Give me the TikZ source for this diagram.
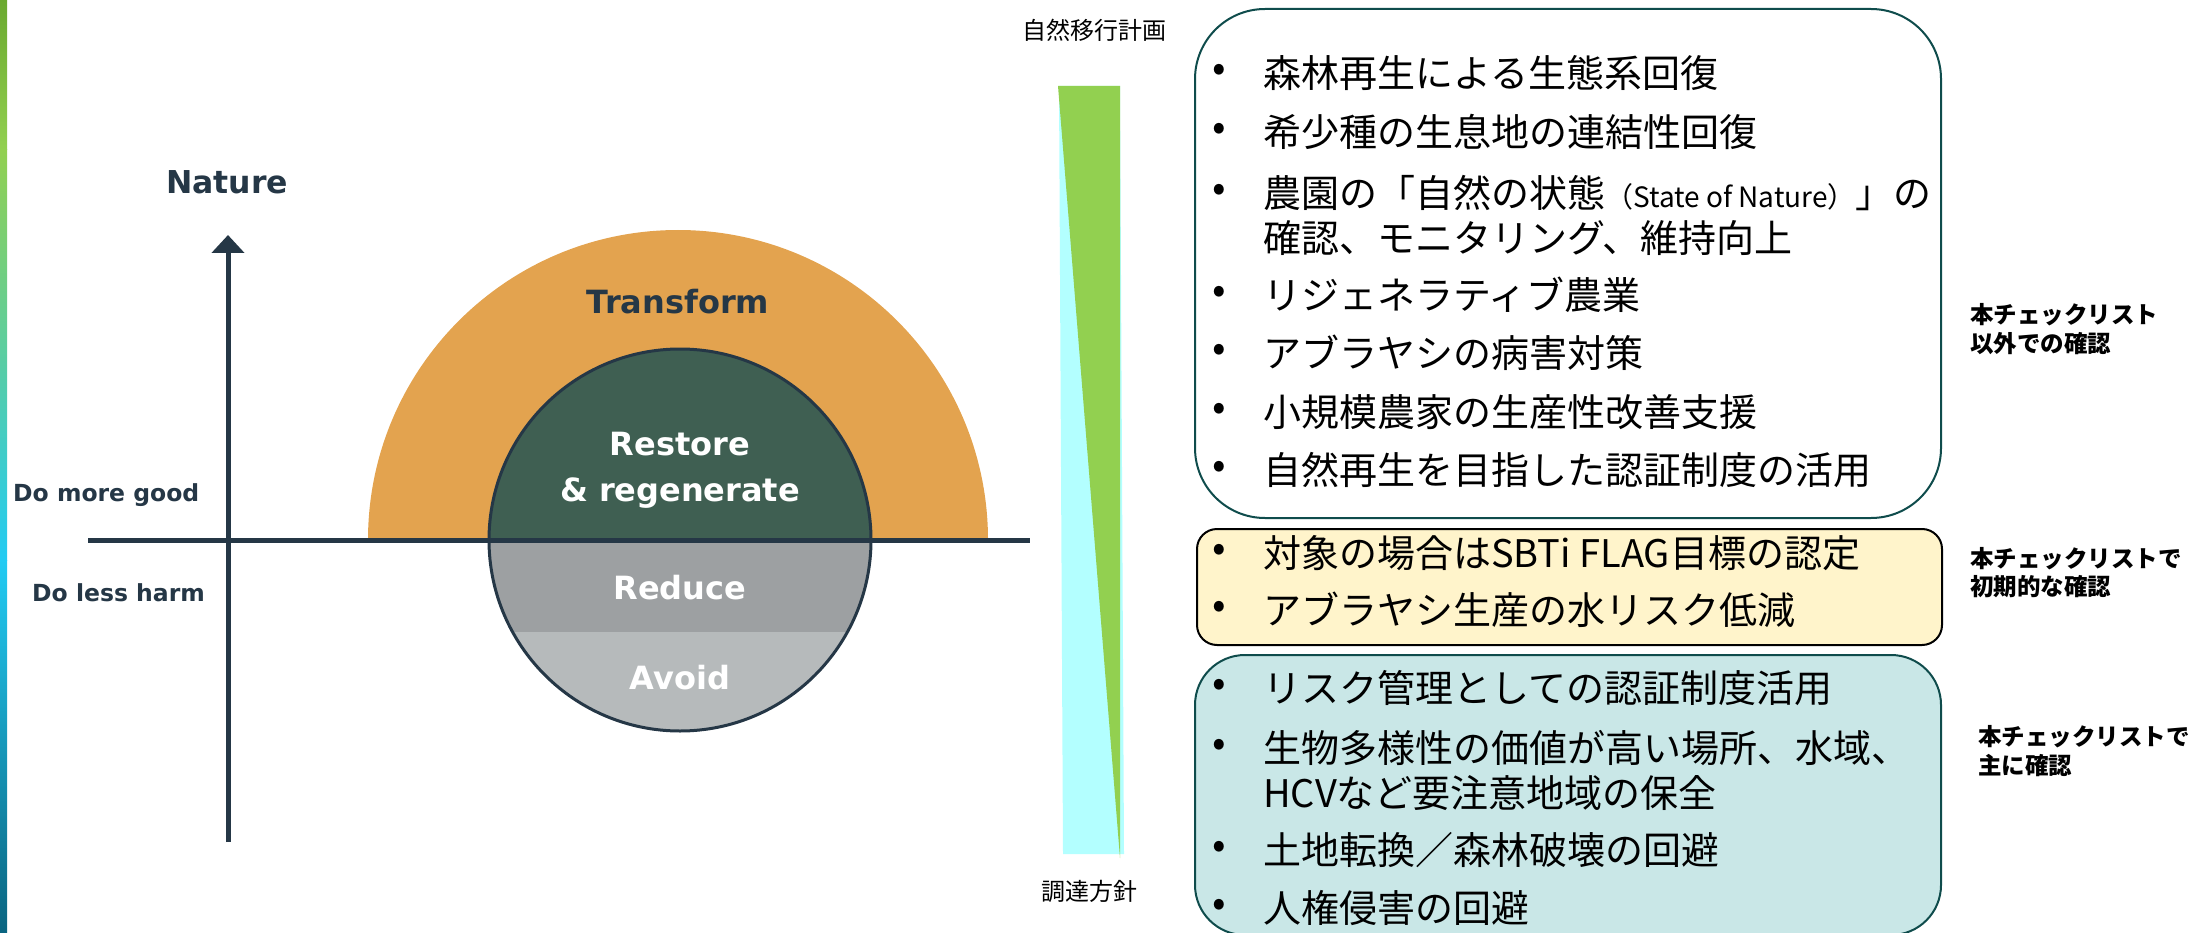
\documentclass[tikz,border=0pt]{standalone}
\usepackage{fontspec}
\usetikzlibrary{arrows.meta}
\newfontfamily\jp{Noto Sans CJK JP}
\newfontfamily\dv{DejaVu Sans}
\definecolor{navy}{HTML}{253746}
\definecolor{orng}{HTML}{E3A34F}
\definecolor{dgreen}{HTML}{3F5F52}
\definecolor{greyA}{HTML}{9DA0A2}
\definecolor{greyB}{HTML}{B6BABB}
\definecolor{tealline}{HTML}{0F4C4C}
\definecolor{yfill}{HTML}{FFF4CB}
\definecolor{tfill}{HTML}{C9E7E7}
\definecolor{bargreen}{HTML}{92D050}
\definecolor{barcyan}{HTML}{B3FFFF}
\definecolor{sA}{HTML}{6AA92F}
\definecolor{sB}{HTML}{92D050}
\definecolor{sC}{HTML}{4FD3B9}
\definecolor{sD}{HTML}{22CBF3}
\definecolor{sE}{HTML}{1590BF}
\definecolor{sF}{HTML}{0A6480}
\tikzset{
  lbl/.style={inner sep=0pt, font=\dv\bfseries\fontsize{32}{46}\selectfont, align=center},
  axlbl/.style={inner sep=0pt, anchor=west, text=navy, font=\dv\bfseries\fontsize{23.5}{28}\selectfont},
  item/.style={inner sep=0pt, anchor=west, align=left, font=\jp\fontsize{38}{45}\selectfont},
  bul/.style={inner sep=0pt, font=\jp\fontsize{40}{40}\selectfont},
  side/.style={inner sep=0pt, anchor=west, align=left, font=\jp\bfseries\fontsize{23.5}{28.5}\selectfont},
  toplbl/.style={inner sep=0pt, font=\jp\fontsize{24}{28}\selectfont},
  roundbox/.style={line width=2pt},
}
\begin{document}
\begin{tikzpicture}[x=1pt,y=-1pt]
\useasboundingbox (0,0) rectangle (2199,933);
% left gradient strip
\shade[top color=sA, bottom color=sB] (0,0) rectangle (7,150);
\shade[top color=sB, middle color=sC, bottom color=sD] (0,150) rectangle (7,560);
\shade[top color=sD, middle color=sE, bottom color=sF] (0,560) rectangle (7,933);
% orange half disc and inner circle
\begin{scope}
  \clip (0,0) rectangle (1100,540);
  \fill[orng] (678,540) circle[radius=310pt];
  \fill[dgreen] (680,540) circle[radius=191pt];
\end{scope}
\begin{scope}
  \clip (0,540) rectangle (1100,632);
  \fill[greyA] (680,540) circle[radius=191pt];
\end{scope}
\begin{scope}
  \clip (0,632) rectangle (1100,933);
  \fill[greyB] (680,540) circle[radius=191pt];
\end{scope}
\draw[navy, line width=3pt] (680,540) circle[radius=191pt];
% axes
\coordinate (axb) at (228,842);
\coordinate (axt) at (228,235);
\coordinate (hl) at (88,540);
\coordinate (hr) at (1030,540);
\draw[navy, line width=5pt] (hl) -- (hr);
\draw[navy, line width=5pt, -{Triangle[width=32pt,length=18pt]}] (axb) -- (axt);
\node[inner sep=0pt, text=navy, font=\dv\bfseries\fontsize{31.5}{34}\selectfont] (nature) at (227,182) {Nature};
\node[axlbl] (good) at (13,495) {Do more good};
\node[axlbl] (harm) at (32,593) {Do less harm};
\node[lbl, text=navy] (transform) at (678,302) {Transform};
\node[lbl, text=white] (restore) at (680,470) {Restore\\\& regenerate};
\node[lbl, text=white] (reduce) at (680,588) {Reduce};
\node[lbl, text=white] (avoid) at (680,678) {Avoid};
% vertical bar
\fill[barcyan] (1059,86) -- (1063,854) -- (1124,854) -- (1120,86) -- cycle;
\fill[bargreen] (1058,86) -- (1120,86) -- (1120,858) -- cycle;
\node[toplbl] (plan) at (1094,30) {自然移行計画};
\node[toplbl] (policy) at (1089,891) {調達方針};
% boxes
\draw[roundbox, draw=tealline, fill=white, rounded corners=70pt] (1195,9) rectangle (1941,518);
\draw[roundbox, draw=black, fill=yfill, rounded corners=20pt] (1197,529) rectangle (1942,645);
\draw[roundbox, draw=tealline, fill=tfill, rounded corners=50pt] (1195,655) rectangle (1941,935);
% box 1 items
\node[bul] (b1) at (1219,73) {•};
\node[item] (t1) at (1263,73) {森林再生による生態系回復};
\node[bul] (b2) at (1219,132) {•};
\node[item] (t2) at (1263,132) {希少種の生息地の連結性回復};
\node[bul] (b3) at (1219,193) {•};
\node[item] (t3) at (1263,215.5) {農園の「自然の状態{\fontsize{28}{45}\selectfont（State of Nature）}」の\\確認、モニタリング、維持向上};
\node[bul] (b4) at (1219,295) {•};
\node[item] (t4) at (1263,295) {リジェネラティブ農業};
\node[bul] (b5) at (1219,353) {•};
\node[item] (t5) at (1263,353) {アブラヤシの病害対策};
\node[bul] (b6) at (1219,412) {•};
\node[item] (t6) at (1263,412) {小規模農家の生産性改善支援};
\node[bul] (b7) at (1219,470) {•};
\node[item] (t7) at (1263,470) {自然再生を目指した認証制度の活用};
% box 2 items
\node[bul] (b8) at (1219,553) {•};
\node[item] (t8) at (1263,553) {対象の場合はSBTi FLAG目標の認定};
\node[bul] (b9) at (1219,610) {•};
\node[item] (t9) at (1263,610) {アブラヤシ生産の水リスク低減};
% box 3 items
\node[bul] (b10) at (1219,688) {•};
\node[item] (t10) at (1263,688) {リスク管理としての認証制度活用};
\node[bul] (b11) at (1219,748) {•};
\node[item] (t11) at (1263,770.5) {生物多様性の価値が高い場所、水域、\\HCVなど要注意地域の保全};
\node[bul] (b12) at (1219,850) {•};
\node[item] (t12) at (1263,850) {土地転換／森林破壊の回避};
\node[bul] (b13) at (1219,908) {•};
\node[item] (t13) at (1263,908) {人権侵害の回避};
% side labels
\node[side] (s1) at (1970,329) {本チェックリスト\\以外での確認};
\node[side] (s2) at (1970,572.5) {本チェックリストで\\初期的な確認};
\node[side] (s3) at (1978,751) {本チェックリストで\\主に確認};
\end{tikzpicture}
\end{document}
